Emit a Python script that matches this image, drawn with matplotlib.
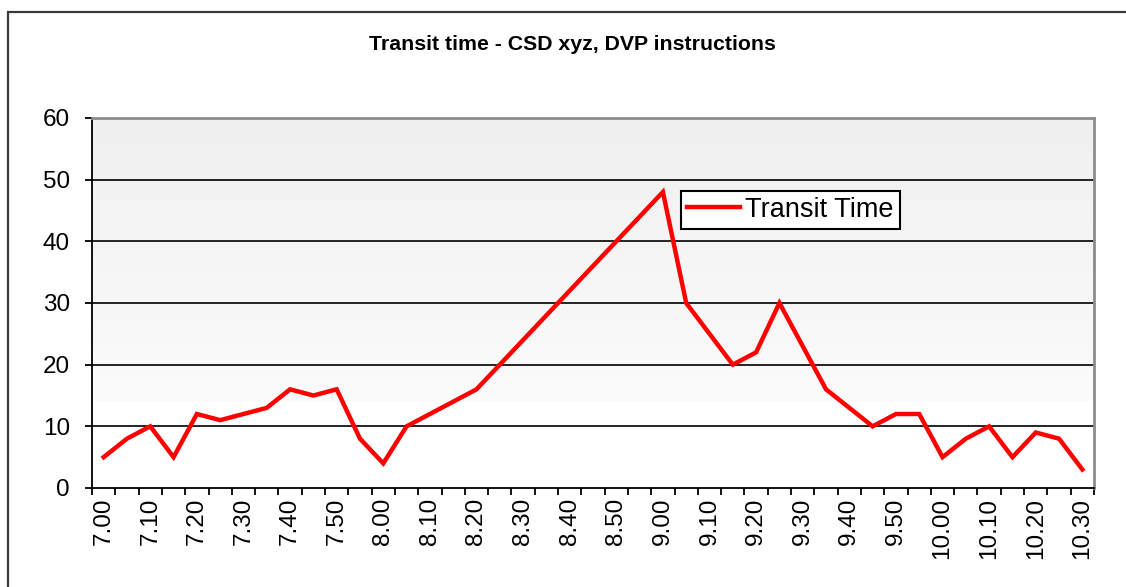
import numpy as np
import matplotlib
matplotlib.use("Agg")
import matplotlib.pyplot as plt

# transit time per 5-minute slot
times = ['7.00', '7.05', '7.10', '7.15', '7.20', '7.25', '7.30', '7.35', '7.40', '7.45',
         '7.50', '7.55', '8.00', '8.05', '8.10', '8.15', '8.20', '8.25', '8.30', '8.35',
         '8.40', '8.45', '8.50', '8.55', '9.00', '9.05', '9.10', '9.15', '9.20', '9.25',
         '9.30', '9.35', '9.40', '9.45', '9.50', '9.55', '10.00', '10.05', '10.10', '10.15',
         '10.20', '10.25', '10.30']
transit = [5, 8, 10, 5, 12, 11, 12, 13, 16, 15, 16, 8, 4, 10, 12, 14, 16, 20, 24, 28,
           32, 36, 40, 44, 48, 30, 25, 20, 22, 30, 23, 16, 13, 10, 12, 12, 5, 8, 10, 5,
           9, 8, 3]
y_ticks = [0, 10, 20, 30, 40, 50, 60]

W, H = 1126, 587
fig = plt.figure(figsize=(W / 100, H / 100), dpi=100)
ax = fig.add_axes([92 / W, 1 - 488 / H, (1094 - 92) / W, (488 - 118) / H])

x = np.arange(len(times))
n = len(times)

# grey-to-white background inside the plot area, plain white near the bottom
levels = np.linspace(60, 0, 400)
shade = np.where(levels > 14, 0.94 + (60 - levels) / 46 * 0.045, 1.0)
ax.imshow(np.repeat(shade[:, None, None], 3, axis=2),
          extent=[-0.5, n - 0.5, 0, 60], aspect='auto', zorder=0,
          interpolation='nearest')

for v in y_ticks[1:-1]:
    ax.axhline(v, color='black', lw=1.2, zorder=1)

ax.plot(x, transit, color='#ff0000', lw=3.2, label='Transit Time', zorder=3,
        solid_joinstyle='miter')

ax.set_xlim(-0.5, n - 0.5)
ax.set_ylim(0, 60)
ax.set_yticks(y_ticks)

ax.set_xticks(x[::2])
ax.set_xticklabels(times[::2], rotation=90)
ax.set_xticks(np.arange(n + 1) - 0.5, minor=True)

font = 'Liberation Sans'
ax.tick_params(axis='y', direction='out', length=5, width=1.3, pad=11,
               labelsize=17.5, colors='black')
ax.tick_params(axis='x', which='major', length=0, pad=7, labelsize=17.5)
ax.tick_params(axis='x', which='minor', direction='out', length=5, width=1.3)
for lbl in ax.get_xticklabels() + ax.get_yticklabels():
    lbl.set_family(font)

ax.spines['left'].set_color('black')
ax.spines['bottom'].set_color('black')
ax.spines['left'].set_linewidth(1.3)
ax.spines['bottom'].set_linewidth(1.3)
ax.spines['top'].set_color('#8c8c8c')
ax.spines['right'].set_color('#8c8c8c')
ax.spines['top'].set_linewidth(2)
ax.spines['right'].set_linewidth(2)

leg = ax.legend(loc='upper left', bbox_to_anchor=(681 / W, 1 - 191 / H),
                bbox_transform=fig.transFigure, frameon=True, fancybox=False,
                borderpad=0.22, borderaxespad=0, handlelength=1.95,
                handletextpad=0.2, prop={'family': font, 'size': 19.5})
leg.get_frame().set_edgecolor('black')
leg.get_frame().set_linewidth(1.5)
leg.get_frame().set_alpha(1)

fig.text(572 / W, 1 - 44 / H, 'Transit time - CSD xyz, DVP instructions',
         ha='center', va='center', fontsize=15.3, fontweight='bold',
         family=['Liberation Sans Narrow', 'Liberation Sans'])

# outer chart border
fig.add_artist(plt.Rectangle((8 / W, -0.1), 1.2, (H - 12) / H + 0.1,
                             transform=fig.transFigure, fill=False,
                             ec='#3a3a3a', lw=1.6))

fig.savefig('out.png', dpi=100)
